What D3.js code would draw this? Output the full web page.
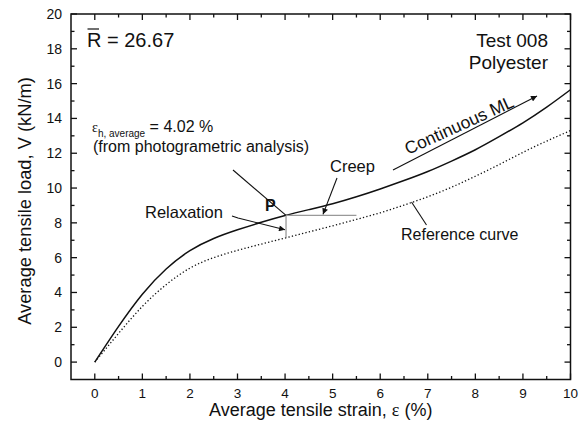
<!DOCTYPE html>
<html>
<head>
<meta charset="utf-8">
<script src="https://cdn.jsdelivr.net/npm/d3@7"></script>
<style>
  html, body { margin: 0; padding: 0; background: #fff; }
  svg { display: block; }
  text { font-family: "Liberation Sans", Arial, sans-serif; fill: #111; }
</style>
</head>
<body>
<svg id="chart" width="583" height="430"></svg>
<script>
// Strain (%) sample points shared by both curves
const strain = [0, 0.5, 1, 1.5, 2, 2.5, 3, 3.5, 4, 4.5, 5, 5.5, 6, 6.5, 7, 7.5, 8, 8.5, 9, 9.5, 10];
// Continuous ML load (kN/m)
const loadContinuous = [0, 2.05, 3.9, 5.35, 6.4, 7.1, 7.6, 8.03, 8.42, 8.76, 9.1, 9.5, 9.95, 10.43, 10.95, 11.55, 12.2, 12.95, 13.75, 14.65, 15.65];
// Reference curve load (kN/m)
const loadReference = [0, 1.65, 3.2, 4.45, 5.4, 6.0, 6.42, 6.78, 7.13, 7.48, 7.83, 8.2, 8.58, 9.02, 9.5, 10.05, 10.68, 11.35, 12.05, 12.7, 13.3];
// Point P and the creep / relaxation segments
const pointP = { strain: 4.02, load: 8.43 };
const creepEndStrain = 5.5;
const relaxationEndLoad = 7.15;
// Tick values
const xTicks = [0, 1, 2, 3, 4, 5, 6, 7, 8, 9, 10];
const yTicks = [0, 2, 4, 6, 8, 10, 12, 14, 16, 18, 20];

const svg = d3.select("#chart");
const plotL = 71, plotR = 570.5, plotT = 14, plotB = 379.5;

const x = d3.scaleLinear().domain([-0.5, 10]).range([plotL, plotR]);
const y = d3.scaleLinear().domain([-1, 20]).range([plotB, plotT]);

// Frame
svg.append("rect")
  .attr("x", plotL).attr("y", plotT)
  .attr("width", plotR - plotL).attr("height", plotB - plotT)
  .attr("fill", "none").attr("stroke", "#111").attr("stroke-width", 1.5);

const xMinor = d3.range(0.5, 10, 1);
const yMinor = d3.range(1, 20, 2);
const major = 6, minor = 3.5;

const tickG = svg.append("g").attr("stroke", "#111").attr("stroke-width", 1.3);
// Bottom and top ticks (inward)
xTicks.forEach(v => {
  tickG.append("line").attr("x1", x(v)).attr("x2", x(v)).attr("y1", plotB).attr("y2", plotB - major);
  tickG.append("line").attr("x1", x(v)).attr("x2", x(v)).attr("y1", plotT).attr("y2", plotT + major);
});
xMinor.forEach(v => {
  tickG.append("line").attr("x1", x(v)).attr("x2", x(v)).attr("y1", plotB).attr("y2", plotB - minor);
  tickG.append("line").attr("x1", x(v)).attr("x2", x(v)).attr("y1", plotT).attr("y2", plotT + minor);
});
// Left and right ticks (inward)
yTicks.forEach(v => {
  tickG.append("line").attr("y1", y(v)).attr("y2", y(v)).attr("x1", plotL).attr("x2", plotL + major);
  tickG.append("line").attr("y1", y(v)).attr("y2", y(v)).attr("x1", plotR).attr("x2", plotR - major);
});
yMinor.forEach(v => {
  tickG.append("line").attr("y1", y(v)).attr("y2", y(v)).attr("x1", plotL).attr("x2", plotL + minor);
  tickG.append("line").attr("y1", y(v)).attr("y2", y(v)).attr("x1", plotR).attr("x2", plotR - minor);
});

// Tick labels
svg.append("g").selectAll("text").data(xTicks).join("text")
  .attr("x", d => x(d)).attr("y", 397.5)
  .attr("text-anchor", "middle").attr("font-size", 13.5)
  .text(d => d);
svg.append("g").selectAll("text").data(yTicks).join("text")
  .attr("x", 62).attr("y", d => y(d) + 5)
  .attr("text-anchor", "end").attr("font-size", 14)
  .text(d => d);

// Axis titles
const xt = svg.append("text")
  .attr("x", (plotL + plotR) / 2).attr("y", 416)
  .attr("text-anchor", "middle").attr("font-size", 18);
xt.append("tspan").text("Average tensile strain, ");
xt.append("tspan").attr("font-family", "Liberation Serif, serif").text("ε");
xt.append("tspan").text(" (%)");

svg.append("text")
  .attr("transform", `translate(30.5,201) rotate(-90)`)
  .attr("text-anchor", "middle").attr("font-size", 18.3)
  .text("Average tensile load, V (kN/m)");

// Curves
const line = d3.line().x(d => x(d[0])).y(d => y(d[1])).curve(d3.curveNatural);
const contData = strain.map((s, i) => [s, loadContinuous[i]]);
const refData = strain.map((s, i) => [s, loadReference[i]]);

svg.append("path").datum(refData)
  .attr("d", line).attr("fill", "none")
  .attr("stroke", "#111").attr("stroke-width", 1.3)
  .attr("stroke-dasharray", "1.3,2.2");
svg.append("path").datum(contData)
  .attr("d", line).attr("fill", "none")
  .attr("stroke", "#111").attr("stroke-width", 1.5);

// Creep and relaxation segments from P
svg.append("line")
  .attr("x1", x(pointP.strain)).attr("x2", x(creepEndStrain))
  .attr("y1", y(pointP.load)).attr("y2", y(pointP.load))
  .attr("stroke", "#999").attr("stroke-width", 1.3);
svg.append("line")
  .attr("x1", x(pointP.strain)).attr("x2", x(pointP.strain))
  .attr("y1", y(pointP.load)).attr("y2", y(relaxationEndLoad))
  .attr("stroke", "#999").attr("stroke-width", 1.3);

// Arrow marker
svg.append("defs").append("marker")
  .attr("id", "arrow").attr("viewBox", "0 0 10 10")
  .attr("refX", 10).attr("refY", 5)
  .attr("markerWidth", 7).attr("markerHeight", 6)
  .attr("markerUnits", "userSpaceOnUse")
  .attr("orient", "auto")
  .append("path").attr("d", "M0,0 L10,5 L0,10 Z").attr("fill", "#111");

const ann = svg.append("g").attr("stroke", "#111").attr("stroke-width", 1.1).attr("fill", "none");
// Leader from the strain note to P
ann.append("line").attr("x1", 233).attr("y1", 170).attr("x2", x(pointP.strain)).attr("y2", y(pointP.load));
// Relaxation arrow
ann.append("polyline").attr("points", `232,216 238,218 ${x(pointP.strain) - 1},${y(7.6)}`)
  .attr("marker-end", "url(#arrow)");
// Creep arrow
ann.append("line").attr("x1", 337).attr("y1", 178).attr("x2", 323).attr("y2", y(pointP.load) - 1)
  .attr("marker-end", "url(#arrow)");
// Continuous ML arrow
ann.append("line").attr("x1", 393).attr("y1", 170).attr("x2", 537).attr("y2", 96)
  .attr("marker-end", "url(#arrow)");
// Reference curve leader
ann.append("line").attr("x1", 411.5).attr("y1", 202).attr("x2", 426.5).attr("y2", 225);

// Texts
svg.append("text").attr("x", 87).attr("y", 47).attr("font-size", 20).text("R = 26.67");
svg.append("line").attr("x1", 87.5).attr("x2", 99).attr("y1", 29).attr("y2", 29)
  .attr("stroke", "#111").attr("stroke-width", 1.2);

svg.append("text").attr("x", 548).attr("y", 47).attr("text-anchor", "end").attr("font-size", 19).text("Test 008");
svg.append("text").attr("x", 548).attr("y", 69).attr("text-anchor", "end").attr("font-size", 19).text("Polyester");

const et = svg.append("text").attr("x", 92).attr("y", 132).attr("font-size", 16);
et.append("tspan").attr("font-family", "Liberation Serif, serif").attr("font-size", 14).text("ε");
et.append("tspan").attr("font-size", 10).attr("dy", 5).text("h, average");
et.append("tspan").attr("dy", -5).text(" = 4.02 %");
svg.append("text").attr("x", 93).attr("y", 152).attr("font-size", 16).text("(from photogrametric analysis)");

svg.append("text").attr("x", 265).attr("y", 211).attr("font-size", 16).attr("font-weight", "bold").text("P");
svg.append("text").attr("x", 145).attr("y", 218).attr("font-size", 16.5).text("Relaxation");
svg.append("text").attr("x", 330).attr("y", 172).attr("font-size", 16.5).text("Creep");
svg.append("text").attr("x", 401).attr("y", 240).attr("font-size", 16).text("Reference curve");

svg.append("text")
  .attr("transform", "translate(408,155) rotate(-24.5)")
  .attr("font-size", 17.5).text("Continuous ML");
</script>
</body>
</html>
